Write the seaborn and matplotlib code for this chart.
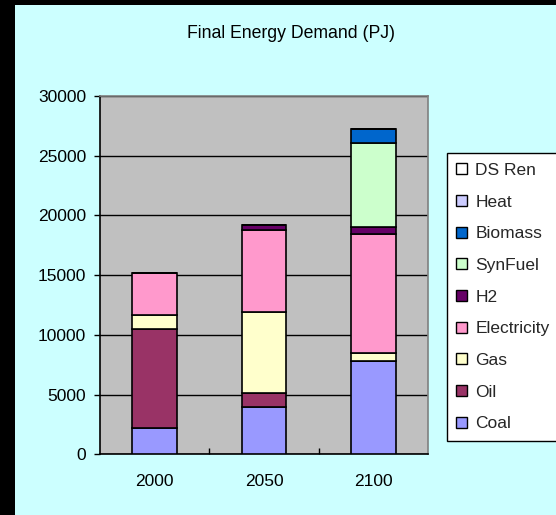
import matplotlib
matplotlib.use("Agg")
import matplotlib.pyplot as plt
import seaborn as sns
import numpy as np
from matplotlib.patches import Rectangle

years = ["2000", "2050", "2100"]

coal = [2200, 4000, 7800]
oil = [8300, 1100, 0]
gas = [1150, 6850, 700]
electricity = [3570, 6800, 9950]
h2 = [0, 480, 600]
synfuel = [0, 0, 7000]
biomass = [0, 0, 1150]
heat = [0, 0, 0]
ds_ren = [0, 0, 0]

series_names = ["Coal", "Oil", "Gas", "Electricity", "H2", "SynFuel", "Biomass", "Heat", "DS Ren"]
series_values = [coal, oil, gas, electricity, h2, synfuel, biomass, heat, ds_ren]
series_colors = ["#9999FF", "#993366", "#FFFFCC", "#FF99CC", "#660066",
                 "#CCFFCC", "#0066CC", "#CCCCFF", "#FFFFFF"]

y_ticks = [0, 5000, 10000, 15000, 20000, 25000, 30000]

sns.set_theme(style="white")
plt.rcParams["font.family"] = ["Liberation Sans", "DejaVu Sans"]

FS = 12.5
W, H = 556, 515
fig = plt.figure(figsize=(W / 100, H / 100), dpi=100, facecolor="black")
fig.patches.append(Rectangle((15 / W, 0), 1 - 15 / W, 1 - 5 / H,
                             transform=fig.transFigure, facecolor="#CCFFFF",
                             edgecolor="none", zorder=-10))

ax = fig.add_axes([100 / W, 1 - 454.4 / H, (428 - 100) / W, (454.4 - 96) / H])
ax.set_zorder(1)
ax.set_facecolor("#C0C0C0")

bottom = np.zeros(len(years))
for name, vals, col in zip(series_names, series_values, series_colors):
    sns.barplot(x=years, y=vals, bottom=bottom, color=col, saturation=1,
                edgecolor="black", linewidth=1.2, width=0.41, errorbar=None,
                label=name, ax=ax, zorder=3)
    bottom = bottom + np.array(vals)

handles, labels = ax.get_legend_handles_labels()
if ax.get_legend() is not None:
    ax.get_legend().remove()

ax.set_ylim(0, 30000)
ax.set_xlim(-0.5, 2.5)
ax.set_yticks(y_ticks)
ax.set_yticklabels([str(t) for t in y_ticks], fontsize=FS, color="black")
ax.tick_params(axis="x", length=0, pad=14, labelsize=FS, labelcolor="black")
ax.tick_params(axis="y", length=4, width=1, direction="out", left=True,
               color="black", pad=6)
ax.set_xticks([0.5, 1.5], minor=True)
ax.tick_params(axis="x", which="minor", length=4, width=1, direction="in",
               bottom=True, color="black")
ax.grid(axis="y", color="black", linewidth=1, zorder=1)
ax.set_axisbelow(True)
ax.set_xlabel("")
ax.set_ylabel("")

for side in ["left", "bottom"]:
    ax.spines[side].set_color("black")
    ax.spines[side].set_linewidth(1.2)
for side in ["top", "right"]:
    ax.spines[side].set_color("#808080")
    ax.spines[side].set_linewidth(1.2)
    ax.spines[side].set_visible(True)

fig.text(291 / W, 1 - 33 / H, "Final Energy Demand (PJ)", ha="center",
         va="center", fontsize=12.7, color="black")

leg = fig.legend(handles[::-1], labels[::-1], loc="upper left",
                 bbox_to_anchor=(446.7 / W, 1 - 153.3 / H),
                 bbox_transform=fig.transFigure, fontsize=FS,
                 frameon=True, fancybox=False, edgecolor="black",
                 facecolor="white", framealpha=1, handlelength=0.6,
                 handleheight=0.6, handletextpad=0.5, labelspacing=0.96,
                 borderpad=0.55, borderaxespad=0)
leg.get_frame().set_linewidth(1)
for h in leg.legend_handles:
    h.set_edgecolor("black")
    h.set_linewidth(1)

fig.savefig("out.png", dpi=100, facecolor=fig.get_facecolor())
